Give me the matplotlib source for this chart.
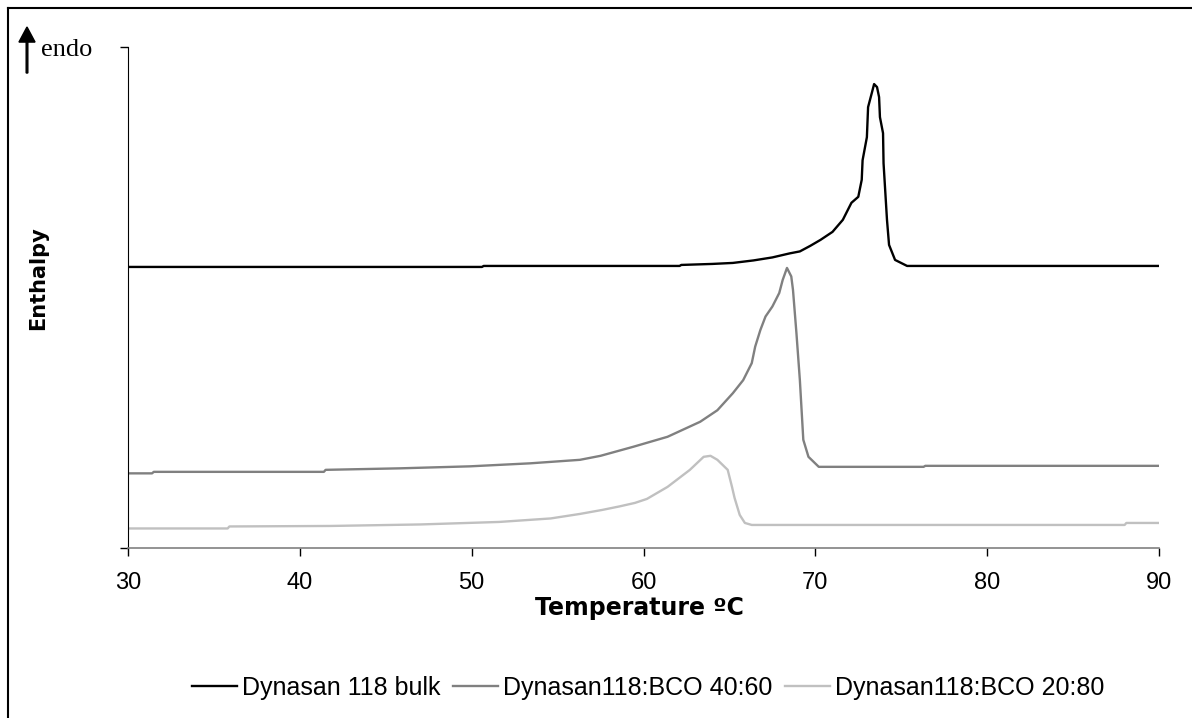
import matplotlib
matplotlib.use("Agg")
import matplotlib.pyplot as plt
from matplotlib.lines import Line2D

# DSC curves (arbitrary enthalpy units, endo up)
bulk_t = [30, 50.6, 50.7, 62.1, 62.2, 64.0, 65.2, 66.4, 67.5, 68.5, 69.1, 69.7, 70.3, 71.0,
          71.6, 72.1, 72.5, 72.7, 72.75, 73.0, 73.07, 73.3, 73.42, 73.59, 73.71, 73.76,
          73.94, 73.97, 74.17, 74.29, 74.64, 75.34, 90]
bulk_h = [5.61, 5.61, 5.63, 5.63, 5.65, 5.67, 5.69, 5.74, 5.80, 5.88, 5.92, 6.03, 6.15, 6.31,
          6.55, 6.89, 7.01, 7.35, 7.74, 8.20, 8.80, 9.10, 9.26, 9.20, 9.00, 8.60,
          8.28, 7.68, 6.55, 6.05, 5.75, 5.63, 5.63]

mix40_t = [30, 31.4, 31.5, 41.4, 41.5, 45.8, 49.9, 53.4, 56.3, 57.5, 59.4, 61.4, 63.3, 64.3,
           65.2, 65.8, 66.3, 66.5, 66.8, 67.1, 67.5, 67.9, 68.1, 68.35, 68.6, 68.7, 68.9,
           69.1, 69.3, 69.6, 70.2, 76.3, 76.4, 90]
mix40_h = [1.49, 1.49, 1.52, 1.52, 1.56, 1.59, 1.63, 1.69, 1.76, 1.84, 2.02, 2.22, 2.52, 2.75,
           3.09, 3.35, 3.69, 4.02, 4.35, 4.62, 4.82, 5.09, 5.35, 5.59, 5.42, 5.15, 4.29,
           3.35, 2.16, 1.82, 1.62, 1.62, 1.64, 1.64]

mix20_t = [30, 35.8, 35.9, 41.8, 47.0, 51.6, 54.6, 56.3, 57.6, 58.6, 59.5, 60.2, 61.4, 62.7,
           63.5, 63.9, 64.3, 64.9, 65.15, 65.3, 65.6, 65.9, 66.3, 88.0, 88.1, 90]
mix20_h = [0.39, 0.39, 0.43, 0.44, 0.47, 0.52, 0.59, 0.68, 0.76, 0.83, 0.90, 0.98, 1.22, 1.56,
           1.82, 1.84, 1.76, 1.56, 1.22, 1.00, 0.66, 0.50, 0.46, 0.46, 0.50, 0.50]

labels = ["Dynasan 118 bulk", "Dynasan118:BCO 40:60", "Dynasan118:BCO 20:80"]
colors = ["#000000", "#808080", "#c0c0c0"]

sans = ["Liberation Sans", "DejaVu Sans"]

fig = plt.figure(figsize=(11.92, 7.18), dpi=100)
ax = fig.add_axes([128 / 1192, 1 - 548 / 718, (1159 - 128) / 1192, (548 - 47) / 718])

for t, h, lab, c in zip([bulk_t, mix40_t, mix20_t], [bulk_h, mix40_h, mix20_h], labels, colors):
    ax.plot(t, h, color=c, linewidth=1.7, label=lab)

ax.set_xlim(30, 90)
ax.set_ylim(0, 10)
ax.set_xticks(range(30, 91, 10))
ax.set_yticks([0, 10])
ax.set_yticklabels([])
ax.tick_params(axis="both", direction="out", length=6, width=1, colors="black")
ax.tick_params(axis="x", labelsize=17, pad=11)
for lab in ax.get_xticklabels():
    lab.set_family(sans)

ax.spines["top"].set_visible(False)
ax.spines["right"].set_visible(False)
ax.spines["left"].set_color("black")
ax.spines["bottom"].set_color("#808080")
ax.spines["bottom"].set_linewidth(1.2)

# axis titles placed where the reference has them
fig.text(639 / 1192, 1 - 608 / 718, "Temperature ºC", family=["DejaVu Sans"],
         fontsize=17, fontweight="bold", ha="center", va="center")
fig.text(38 / 1192, 1 - 278 / 718, "Enthalpy", family=["DejaVu Sans"],
         fontsize=15, fontweight="bold", ha="center", va="center", rotation=90)

# endo arrow at top-left
fig.add_artist(matplotlib.patches.FancyArrow(27 / 1192, 1 - 73 / 718, 0, 46 / 718,
               width=0.0014, head_width=0.0135, head_length=0.021,
               length_includes_head=True, color="black", transform=fig.transFigure))
fig.text(41 / 1192, 1 - 50 / 718, "endo", family=["Liberation Serif", "DejaVu Serif"],
         fontsize=19, va="center", ha="left")

# legend below
fig.legend(loc="center", bbox_to_anchor=(648 / 1192, 1 - 688 / 718), ncol=3, frameon=False,
           prop={"family": sans, "size": 18},
           handlelength=1.8, handletextpad=0.2, columnspacing=0.5)

# outer frame (only top and left edges visible)
fig.add_artist(Line2D([8 / 1192, 1], [1 - 8 / 718, 1 - 8 / 718], color="black",
                      linewidth=1.5, transform=fig.transFigure))
fig.add_artist(Line2D([8 / 1192, 8 / 1192], [0, 1 - 8 / 718], color="black",
                      linewidth=1.5, transform=fig.transFigure))

fig.savefig("out.png", dpi=100)
